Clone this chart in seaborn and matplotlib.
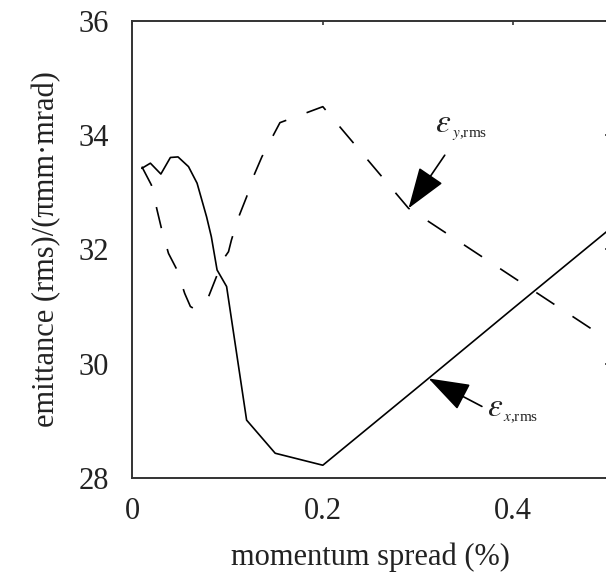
import matplotlib
matplotlib.use("Agg")
import matplotlib.pyplot as plt
import seaborn as sns
import pandas as pd

# Horizontal emittance vs momentum spread (solid curve)
spread_x = [0.010, 0.019, 0.030, 0.040, 0.048, 0.059, 0.068, 0.078, 0.083,
            0.089, 0.099, 0.120, 0.150, 0.200, 0.300, 0.400, 0.500]
emit_x = [33.42, 33.51, 33.32, 33.61, 33.62, 33.45, 33.16, 32.57, 32.22,
          31.64, 31.35, 29.01, 28.43, 28.22, 29.59, 30.97, 32.34]

# Vertical emittance vs momentum spread (dashed curve)
spread_y = [0.010, 0.020, 0.026, 0.031, 0.038, 0.047, 0.055, 0.061, 0.066,
            0.080, 0.089, 0.096, 0.101, 0.104, 0.111, 0.120, 0.127, 0.136,
            0.155, 0.200, 0.290, 0.500]
emit_y = [33.45, 33.13, 32.69, 32.34, 31.93, 31.64, 31.23, 31.00, 30.95,
          31.17, 31.55, 31.84, 31.96, 32.16, 32.54, 32.92, 33.27, 33.62,
          34.22, 34.50, 32.72, 30.41]

x_ticks = [0, 0.2, 0.4]
x_tick_labels = ["0", "0.2", "0.4"]
y_ticks = [28, 30, 32, 34, 36]

sns.set_style("white")
plt.rcParams["font.family"] = ["Liberation Serif", "DejaVu Serif"]
plt.rcParams["mathtext.fontset"] = "stix"

df_x = pd.DataFrame({"spread": spread_x, "emittance": emit_x})
df_y = pd.DataFrame({"spread": spread_y, "emittance": emit_y})

fig = plt.figure(figsize=(6.06, 5.76), dpi=100)
ax = fig.add_axes([0.2183, 0.1705, 0.7860, 0.7930])

sns.lineplot(data=df_x, x="spread", y="emittance", ax=ax, color="black",
             linewidth=1.2, sort=False, estimator=None)
sns.lineplot(data=df_y, x="spread", y="emittance", ax=ax, color="black",
             linewidth=1.2, sort=False, estimator=None,
             linestyle=(0, (13, 13)))

ax.set_xlim(0, 0.5)
ax.set_ylim(28, 36)
ax.set_xticks(x_ticks)
ax.set_xticklabels(x_tick_labels)
ax.set_yticks(y_ticks)

for side in ["left", "right", "top", "bottom"]:
    ax.spines[side].set_visible(True)
    ax.spines[side].set_color("#333333")
    ax.spines[side].set_linewidth(1.4)

ax.tick_params(axis="both", which="major", direction="in", length=3,
               width=1.2, color="#333333", labelsize=22, top=True,
               right=True, labelcolor="#222222")
ax.tick_params(axis="x", pad=14)
ax.tick_params(axis="y", pad=17)

ax.set_xlabel("momentum spread (%)", fontsize=22, color="#222222",
              labelpad=12)
ax.set_ylabel("emittance (rms)/(πmm·mrad)", fontsize=22, color="#222222",
              labelpad=12)

arrow_style = dict(arrowstyle="-|>,head_length=1.3,head_width=0.45",
                   color="black", lw=1.2, mutation_scale=20,
                   shrinkA=0, shrinkB=0)


def emittance_label(x, y, plane):
    """Italic epsilon with a small 'plane,rms' subscript."""
    ax.text(x, y, r"$\varepsilon$", fontsize=24, ha="left",
            va="baseline", color="#222222")
    ax.annotate(r"$%s$,rms" % plane, xy=(x, y), xytext=(12, -3.6),
                textcoords="offset points", fontsize=11, ha="left",
                va="baseline", color="#222222")


# Pointer and label for the vertical emittance curve
ax.annotate("", xy=(0.290, 32.72), xytext=(0.328, 33.65),
            arrowprops=arrow_style)
emittance_label(0.318, 34.06, "y")

# Pointer and label for the horizontal emittance curve
ax.annotate("", xy=(0.311, 29.74), xytext=(0.367, 29.25),
            arrowprops=arrow_style)
emittance_label(0.372, 29.08, "x")

ax.grid(False)
fig.savefig("out.png", dpi=100, facecolor="white")
